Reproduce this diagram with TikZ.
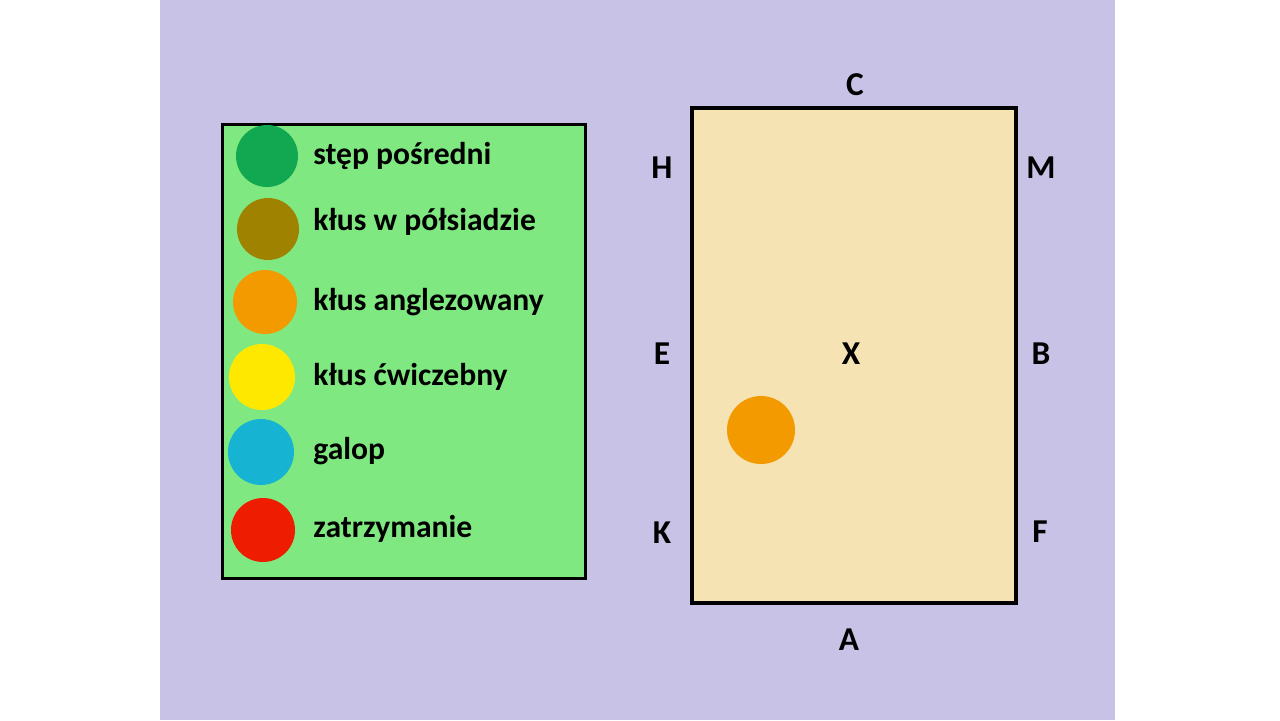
\documentclass[tikz,border=0pt]{standalone}
\usepackage{fontspec}
\setmainfont{Carlito}
\definecolor{lavender}{HTML}{C8C3E6}
\definecolor{legendgreen}{HTML}{80E880}
\definecolor{sand}{HTML}{F5E3B3}
\definecolor{dotgreen}{HTML}{12A852}
\definecolor{dotolive}{HTML}{9E8200}
\definecolor{dotorange}{HTML}{F39A00}
\definecolor{dotyellow}{HTML}{FFE800}
\definecolor{dotcyan}{HTML}{16B4D2}
\definecolor{dotred}{HTML}{EE1C00}
\newlength{\pxu}
\setlength{\pxu}{0.02cm}
\tikzset{
  dot/.style={circle,inner sep=0pt,minimum size=62\pxu},
  entry/.style={anchor=west,inner sep=0pt,font=\fontsize{18}{20}\selectfont\bfseries},
  letter/.style={font=\fontsize{19}{21}\selectfont\bfseries}
}
\begin{document}
\begin{tikzpicture}[x=0.02cm,y=-0.02cm]
\useasboundingbox (0,0) rectangle (1280,720);
\fill[white] (0,0) rectangle (1280,720);
\fill[lavender] (160,0) rectangle (1115,720);
% legend
\draw[line width=3\pxu,fill=legendgreen] (222,124) rectangle (585,578);
\node[dot,fill=dotgreen] (d1) at (267,156) {};
\node[dot,fill=dotolive] (d2) at (268,229) {};
\node[dot,fill=dotorange,minimum size=64\pxu] (d3) at (265,302) {};
\node[dot,fill=dotyellow,minimum size=66\pxu] (d4) at (262,377) {};
\node[dot,fill=dotcyan,minimum size=66\pxu] (d5) at (261,452) {};
\node[dot,fill=dotred,minimum size=64\pxu] (d6) at (263,530) {};
\node[entry] (t1) at (313,156) {stęp pośredni};
\node[entry] (t2) at (313,222) {kłus w półsiadzie};
\node[entry] (t3) at (313,302) {kłus anglezowany};
\node[entry] (t4) at (313,377) {kłus ćwiczebny};
\node[entry] (t5) at (313,451) {galop};
\node[entry] (t6) at (313,529) {zatrzymanie};
% arena
\draw[line width=4\pxu,fill=sand] (692,108) rectangle (1016,603);
\node[letter] (C) at (855,85) {C};
\node[letter] (H) at (662,168) {H};
\node[letter] (M) at (1041,168) {M};
\node[letter] (E) at (662,354) {E};
\node[letter] (X) at (851,354) {X};
\node[letter] (B) at (1041,354) {B};
\node[letter] (K) at (662,533) {K};
\node[letter] (F) at (1040,532) {F};
\node[letter] (A) at (849,640) {A};
\node[dot,fill=dotorange,minimum size=68\pxu] (rider) at (761,430) {};
\end{tikzpicture}
\end{document}
